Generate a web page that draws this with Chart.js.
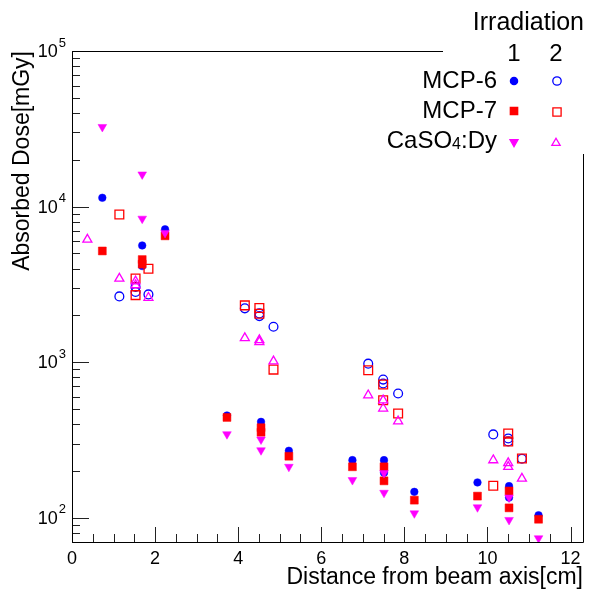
<!DOCTYPE html>
<html>
<head>
<meta charset="utf-8">
<script src="https://cdn.jsdelivr.net/npm/chart.js@4"></script>
<style>
  html, body { margin: 0; padding: 0; background: #fff; }
  #wrap { width: 599px; height: 589px; }
</style>
</head>
<body>
<div id="wrap"><canvas id="chart" width="599" height="589"></canvas></div>
<script>
// distance from beam axis [cm] and absorbed dose [mGy]
// Irradiation 1 (filled markers)
const mcp6Irr1X = [0.73, 1.69, 1.69, 2.24, 3.73, 4.55, 5.22, 6.75, 7.51, 7.51, 8.24, 9.76, 10.52, 10.52, 11.23];
const mcp6Irr1Y = [11400, 5630, 4150, 7150, 455, 414, 270, 235, 235, 195, 147, 169, 160, 135, 104];
const mcp7Irr1X = [0.73, 1.69, 1.69, 2.24, 3.73, 4.55, 4.55, 5.22, 6.75, 7.51, 7.51, 8.24, 9.76, 10.52, 10.52, 11.23];
const mcp7Irr1Y = [5190, 4570, 4270, 6490, 442, 380, 355, 249, 213, 213, 173, 130, 138, 149, 116, 98];
const casoIrr1X = [0.73, 1.69, 1.69, 2.24, 3.73, 4.55, 4.55, 5.22, 6.75, 7.51, 7.51, 8.24, 9.76, 10.52, 10.52, 11.23];
const casoIrr1Y = [32500, 16100, 8370, 6780, 345, 319, 272, 213, 175, 194, 145, 107, 117, 135, 97, 74];

// Irradiation 2 (open markers)
const mcp6Irr2X = [1.14, 1.53, 1.53, 1.84, 4.16, 4.51, 4.51, 4.85, 7.13, 7.49, 7.49, 7.85, 10.14, 10.5, 10.5, 10.83];
const mcp6Irr2Y = [2650, 3050, 2830, 2730, 2220, 2060, 1980, 1690, 980, 774, 730, 630, 344, 324, 310, 240];
const mcp7Irr2X = [1.14, 1.53, 1.53, 1.84, 4.16, 4.51, 4.51, 4.85, 7.13, 7.49, 7.49, 7.85, 10.14, 10.5, 10.5, 10.83];
const mcp7Irr2Y = [8890, 3450, 2700, 3990, 2320, 2230, 2050, 897, 889, 720, 570, 469, 161, 348, 310, 241];
const casoIrr2X = [0.37, 1.14, 1.53, 1.53, 1.84, 4.16, 4.51, 4.51, 4.85, 7.13, 7.49, 7.49, 7.85, 10.14, 10.5, 10.5, 10.83];
const casoIrr2Y = [6140, 3450, 3310, 3130, 2600, 1430, 1390, 1350, 1015, 614, 570, 505, 418, 235, 225, 213, 179];

const xTickLabels = [0, 2, 4, 6, 8, 10, 12];
const yDecades = [100, 1000, 10000, 100000];

const FONT = "'Liberation Sans', Arial, Helvetica, sans-serif";
const BLUE = '#0000ff', RED = '#ff0000', MAGENTA = '#ff00ff';

function pts(xs, ys) {
  return xs.map((x, i) => ({ x: x, y: ys[i] }));
}

// ROOT-like frame, inside ticks, y labels and the legend box
const rootFrame = {
  id: 'rootFrame',
  afterDatasetsDraw(chart) {
    const { ctx, chartArea: a, scales: { x, y } } = chart;
    ctx.save();

    // ticks
    ctx.strokeStyle = '#222';
    ctx.lineWidth = 1;
    ctx.beginPath();
    for (let v = 0; v <= x.max + 1e-9; v += 0.5) {
      const px = Math.round(x.getPixelForValue(v)) + 0.5;
      const len = xTickLabels.includes(v) ? 15 : 8;
      ctx.moveTo(px, a.bottom);
      ctx.lineTo(px, a.bottom - len);
    }
    [10, 100, 1000, 10000].forEach(d => {
      for (let k = 1; k <= 9; k++) {
        const v = k * d;
        if (v < y.min || v > y.max) continue;
        const py = Math.round(y.getPixelForValue(v)) + 0.5;
        const len = k === 1 ? 17 : 8;
        ctx.moveTo(a.left, py);
        ctx.lineTo(a.left + len, py);
      }
    });
    const topPy = Math.round(y.getPixelForValue(100000)) + 0.5;
    ctx.moveTo(a.left, topPy);
    ctx.lineTo(a.left + 17, topPy);
    ctx.stroke();

    // frame
    ctx.strokeStyle = '#000';
    ctx.beginPath();
    const L = Math.round(a.left) + 0.5, R = Math.round(a.right) + 0.5;
    const T = Math.round(a.top) + 0.5, B = Math.round(a.bottom) + 0.5;
    ctx.moveTo(R, T); ctx.lineTo(L, T); ctx.lineTo(L, B); ctx.lineTo(R, B); ctx.lineTo(R, T);
    ctx.stroke();

    // y labels 10^n
    ctx.fillStyle = '#000';
    ctx.textBaseline = 'middle';
    yDecades.forEach(v => {
      const py = y.getPixelForValue(v);
      const exp = String(Math.round(Math.log10(v)));
      ctx.font = '13px ' + FONT;
      ctx.textAlign = 'right';
      ctx.fillText(exp, 66, py - 8);
      const ew = ctx.measureText(exp).width;
      ctx.font = '18px ' + FONT;
      ctx.fillText('10', 66 - ew - 1, py + 1);
    });

    // legend box (white fill, no border) covering the frame corner
    ctx.fillStyle = '#fff';
    ctx.fillRect(443, 0, 599 - 443, 154);

    ctx.fillStyle = '#000';
    ctx.font = '25px ' + FONT;
    ctx.textAlign = 'right';
    ctx.textBaseline = 'middle';
    ctx.fillText('Irradiation', 584, 23);
    ctx.font = '24px ' + FONT;
    ctx.textAlign = 'center';
    ctx.fillText('1', 514, 54);
    ctx.fillText('2', 556, 54);

    ctx.textAlign = 'right';
    ctx.fillText('MCP-6', 497, 81);
    ctx.fillText('MCP-7', 497, 111);
    // CaSO4:Dy with a smaller 4
    const wDy = ctx.measureText(':Dy').width;
    ctx.fillText(':Dy', 497, 141);
    ctx.font = '16px ' + FONT;
    const w4 = ctx.measureText('4').width;
    ctx.textBaseline = 'alphabetic';
    ctx.fillText('4', 497 - wDy, 149);
    ctx.font = '24px ' + FONT;
    ctx.textBaseline = 'middle';
    ctx.fillText('CaSO', 497 - wDy - w4, 141);

    // legend markers
    const draw = Chart.helpers && Chart.helpers.drawPoint;
    const marks = [
      { x: 514, y: 81, style: 'circle', r: 3.6, fill: BLUE, stroke: BLUE, rot: 0 },
      { x: 557, y: 81, style: 'circle', r: 4.2, fill: 'rgba(0,0,0,0)', stroke: BLUE, rot: 0 },
      { x: 514, y: 111, style: 'rect', r: 5.2, fill: RED, stroke: RED, rot: 0 },
      { x: 557, y: 112, style: 'rect', r: 5.8, fill: 'rgba(0,0,0,0)', stroke: RED, rot: 0 },
      { x: 514, y: 142, style: 'triangle', r: 4.6, fill: MAGENTA, stroke: MAGENTA, rot: 180 },
      { x: 556, y: 143, style: 'triangle', r: 4.8, fill: 'rgba(0,0,0,0)', stroke: MAGENTA, rot: 0 }
    ];
    if (draw) {
      marks.forEach(m => {
        ctx.fillStyle = m.fill;
        ctx.strokeStyle = m.stroke;
        ctx.lineWidth = 1.3;
        draw(ctx, { pointStyle: m.style, radius: m.r, rotation: m.rot, borderWidth: 1.3 }, m.x, m.y);
      });
    }
    ctx.restore();
  }
};

function ds(label, xs, ys, color, style, filled, radius, order) {
  return {
    label: label,
    data: pts(xs, ys),
    pointStyle: style,
    rotation: style === 'triangle' && filled ? 180 : 0,
    pointRadius: radius,
    pointHoverRadius: radius,
    backgroundColor: filled ? color : 'rgba(0,0,0,0)',
    borderColor: color,
    pointBorderWidth: filled ? 0.5 : 1.3,
    showLine: false,
    order: order
  };
}

Chart.defaults.font.family = FONT;
Chart.defaults.color = '#000';

const ctx = document.getElementById('chart').getContext('2d');
new Chart(ctx, {
  type: 'scatter',
  data: {
    datasets: [
      ds('MCP-6 irradiation 1', mcp6Irr1X, mcp6Irr1Y, BLUE, 'circle', true, 3.8, 6),
      ds('MCP-6 irradiation 2', mcp6Irr2X, mcp6Irr2Y, BLUE, 'circle', false, 4.4, 5),
      ds('MCP-7 irradiation 1', mcp7Irr1X, mcp7Irr1Y, RED, 'rect', true, 5.6, 4),
      ds('MCP-7 irradiation 2', mcp7Irr2X, mcp7Irr2Y, RED, 'rect', false, 6.2, 3),
      ds('CaSO4:Dy irradiation 1', casoIrr1X, casoIrr1Y, MAGENTA, 'triangle', true, 5, 2),
      ds('CaSO4:Dy irradiation 2', casoIrr2X, casoIrr2Y, MAGENTA, 'triangle', false, 5.2, 1)
    ]
  },
  options: {
    responsive: false,
    animation: false,
    layout: { padding: { top: 51, right: 16, left: 0, bottom: 0 } },
    plugins: {
      legend: { display: false },
      tooltip: { enabled: false }
    },
    scales: {
      x: {
        type: 'linear',
        min: 0,
        max: 12.3,
        grid: { display: false, drawTicks: false },
        border: { display: false },
        afterBuildTicks: s => { s.ticks = xTickLabels.map(v => ({ value: v })); },
        afterFit: s => { s.height = 47; },
        ticks: {
          padding: 6,
          maxRotation: 0,
          autoSkip: false,
          font: { size: 18 },
          color: '#000'
        },
        title: {
          display: true,
          text: 'Distance from beam axis[cm]',
          align: 'end',
          font: { size: 23, lineHeight: 1 },
          padding: { top: 0, bottom: 0 },
          color: '#000'
        }
      },
      y: {
        type: 'logarithmic',
        min: 70,
        max: 100000,
        grid: { display: false, drawTicks: false },
        border: { display: false },
        ticks: { display: false },
        afterFit: s => { s.width = 72; },
        title: {
          display: true,
          text: 'Absorbed Dose[mGy]',
          align: 'end',
          font: { size: 23, lineHeight: 1 },
          padding: { top: 11, bottom: 0 },
          color: '#000'
        }
      }
    }
  },
  plugins: [rootFrame]
});
</script>
</body>
</html>
